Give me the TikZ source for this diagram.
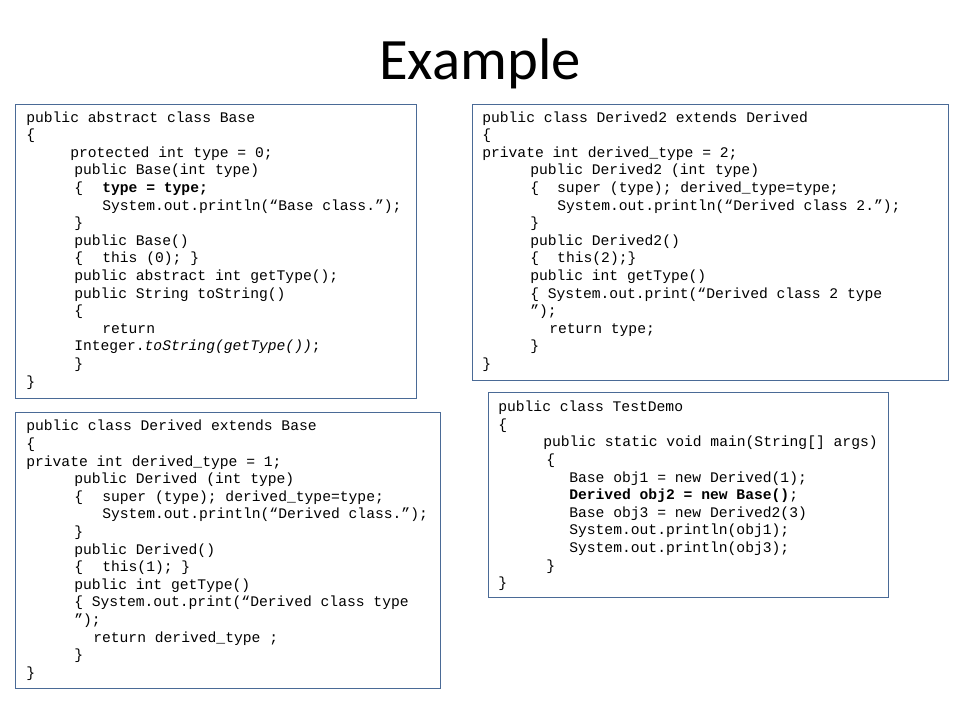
\documentclass[tikz,border=0pt]{standalone}
\usepackage{fontspec}
\setmainfont{Carlito}
\setmonofont{Liberation Mono}
\definecolor{boxblue}{HTML}{4A6A96}
\newcommand\ind[1]{\hspace*{#1pt}}
\tikzset{
  codebox/.style={draw=boxblue, line width=0.75pt},
  codetext/.style={anchor=north west, inner sep=0pt, align=left,
    font=\ttfamily\fontsize{11}{13.2}\selectfont},
}

\begin{document}
\begin{tikzpicture}[x=0.75pt, y=-0.75pt]

    \useasboundingbox (0,0) rectangle (960,720);

    % Title
    \node[anchor=base, font=\fontsize{44}{50}\selectfont] (title) at (480,80) {Example};

    % Boxes
    \draw[codebox] (15,105) rectangle (416,398);
    \draw[codebox] (472,105) rectangle (948,380);
    \draw[codebox] (15,412) rectangle (440,688);
    \draw[codebox] (488,392) rectangle (888,597);

    % Base
    \node[codetext] (base) at (26,111.3) {%
      public abstract class Base\\
      \{\\
      \ind{33}protected int type = 0;\\
      \ind{36}public Base(int type)\\
      \ind{36}\{\ind{14.4}\textbf{type = type;}\\
      \ind{57}System.out.println(“Base class.”);\\
      \ind{36}\}\\
      \ind{36}public Base()\\
      \ind{36}\{\ind{14.4}this (0); \}\\
      \ind{36}public abstract int getType();\\
      \ind{36}public String toString()\\
      \ind{36}\{\\
      \ind{57}return\\
      \ind{36}Integer.\textit{toString(getType())};\\
      \ind{36}\}\\
      \}};

    % Derived2
    \node[codetext] (derivedtwo) at (482,111.3) {%
      public class Derived2 extends Derived\\
      \{\\
      private int derived\_type = 2;\\
      \ind{36}public Derived2 (int type)\\
      \ind{36}\{\ind{13.6}super (type); derived\_type=type;\\
      \ind{56.25}System.out.println(“Derived class 2.”);\\
      \ind{36}\}\\
      \ind{36}public Derived2()\\
      \ind{36}\{\ind{13.6}this(2);\}\\
      \ind{36}public int getType()\\
      \ind{36}\{ System.out.print(“Derived class 2 type\\
      \ind{36}”);\\
      \ind{50.25}return type;\\
      \ind{36}\}\\
      \}};

    % Derived
    \node[codetext] (derived) at (26,420) {%
      public class Derived extends Base\\
      \{\\
      private int derived\_type = 1;\\
      \ind{36}public Derived (int type)\\
      \ind{36}\{\ind{14.4}super (type); derived\_type=type;\\
      \ind{57}System.out.println(“Derived class.”);\\
      \ind{36}\}\\
      \ind{36}public Derived()\\
      \ind{36}\{\ind{14.4}this(1); \}\\
      \ind{36}public int getType()\\
      \ind{36}\{ System.out.print(“Derived class type\\
      \ind{36}”);\\
      \ind{50.25}return derived\_type ;\\
      \ind{36}\}\\
      \}};

    % TestDemo
    \node[codetext] (testdemo) at (498,400.8) {%
      public class TestDemo\\
      \{\\
      \ind{33.75}public static void main(String[] args)\\
      \ind{36}\{\\
      \ind{53.25}Base obj1 = new Derived(1);\\
      \ind{53.25}\textbf{Derived obj2 = new Base()};\\
      \ind{53.25}Base obj3 = new Derived2(3)\\
      \ind{53.25}System.out.println(obj1);\\
      \ind{53.25}System.out.println(obj3);\\
      \ind{36}\}\\
      \}};

\end{tikzpicture}
\end{document}
